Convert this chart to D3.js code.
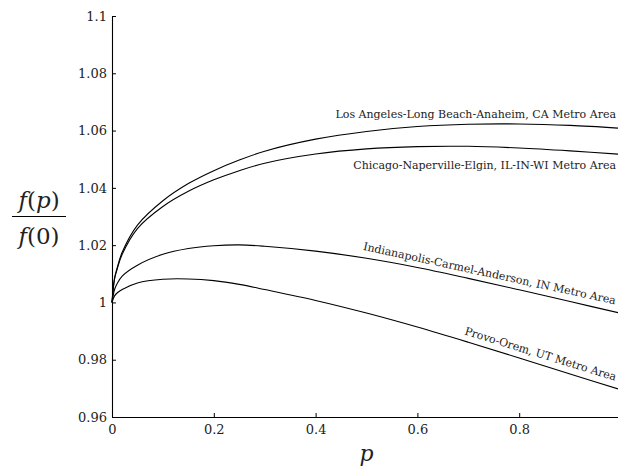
<!doctype html>
<html>
<head>
<meta charset="UTF-8">
<script src="https://d3js.org/d3.v7.min.js"></script>
<style>
  body { margin: 0; background: #fff; }
  text { font-family: "DejaVu Serif", serif; fill: #222; }
</style>
</head>
<body>
<script>
  var width = 618, height = 468

  // values
  var pValues       = [0, 0.005, 0.01, 0.02, 0.05, 0.1, 0.15, 0.2, 0.25, 0.3, 0.4, 0.5, 0.6, 0.7, 0.8, 0.9, 1.0]
  var laValues      = [1.0, 1.0085, 1.012, 1.0175, 1.027, 1.0355, 1.0415, 1.046, 1.0497, 1.0528, 1.057, 1.0597, 1.0614, 1.0622, 1.0623, 1.0618, 1.0608]
  var chicagoValues = [1.0, 1.0082, 1.0115, 1.0168, 1.0258, 1.0335, 1.0388, 1.0428, 1.046, 1.0486, 1.0518, 1.0536, 1.0544, 1.0545, 1.0539, 1.0529, 1.0517]
  var indyValues    = [1.0, 1.0045, 1.0065, 1.0092, 1.013, 1.0168, 1.0188, 1.0198, 1.0201, 1.0196, 1.0179, 1.0154, 1.0122, 1.0084, 1.0044, 1.0003, 0.9962]
  var provoValues   = [1.0, 1.0023, 1.0033, 1.0045, 1.0068, 1.0081, 1.0082, 1.0076, 1.0063, 1.0045, 1.0007, 0.9963, 0.9914, 0.9861, 0.9806, 0.975, 0.9695]

  var seriesNames = ["Los Angeles-Long Beach-Anaheim, CA Metro Area",
                     "Chicago-Naperville-Elgin, IL-IN-WI Metro Area",
                     "Indianapolis-Carmel-Anderson, IN Metro Area",
                     "Provo-Orem, UT Metro Area"]
  var seriesValues = [laValues, chicagoValues, indyValues, provoValues]

  var xTicks = [0, 0.2, 0.4, 0.6, 0.8, 1]
  var yTicks = [0.96, 0.98, 1, 1.02, 1.04, 1.06, 1.08, 1.1]

  var svg = d3.select('body').append('svg')
    .attr('width', width)
    .attr('height', height)

  var x = d3.scaleLinear().domain([0, 1]).range([112, 621])
  var y = d3.scaleLinear().domain([0.96, 1.1]).range([417, 16])
  var fmt = d => String(+d.toFixed(2))

  svg.append('g')
    .attr('transform', 'translate(0,' + y(0.96) + ')')
    .call(d3.axisBottom(x).tickValues(xTicks).tickFormat(fmt).tickSizeInner(-4).tickSizeOuter(0).tickPadding(8))
  svg.append('g')
    .attr('transform', 'translate(' + x(0) + ',0)')
    .call(d3.axisLeft(y).tickValues(yTicks).tickFormat(fmt).tickSizeInner(-4).tickSizeOuter(0).tickPadding(5))

  svg.selectAll('.domain').attr('stroke', '#000').attr('stroke-width', 1.1)
  svg.selectAll('.tick line').attr('stroke', '#000')
  svg.selectAll('.tick text')
    .style('font-family', '"DejaVu Serif", serif')
    .style('font-size', '13px')
    .attr('fill', '#222')

  var line = d3.line()
    .x((d, i) => x(pValues[i]))
    .y(d => y(d))
    .curve(d3.curveCatmullRom.alpha(0.5))

  svg.selectAll('.curve')
    .data(seriesValues)
    .enter()
    .append('path')
    .attr('class', 'curve')
    .attr('d', line)
    .attr('fill', 'none')
    .attr('stroke', '#000')
    .attr('stroke-width', 1.1)

  var n = pValues.length - 1
  var labelSize = '11px'

  // flat labels
  svg.append('text')
    .text(seriesNames[0])
    .style('font-size', labelSize)
    .attr('text-anchor', 'end')
    .attr('x', x(1) - 5)
    .attr('y', y(laValues[n]) - 10)

  svg.append('text')
    .text(seriesNames[1])
    .style('font-size', labelSize)
    .attr('text-anchor', 'end')
    .attr('x', x(1) - 5)
    .attr('y', y(chicagoValues[n]) + 15)

  // slanted labels follow the slope of the curve end
  var slope = function(vals, i0) {
    var dx = x(pValues[n]) - x(pValues[i0])
    var dy = y(vals[n]) - y(vals[i0])
    return Math.atan2(dy, dx) * 180 / Math.PI
  }

  svg.append('text')
    .text(seriesNames[2])
    .style('font-size', labelSize)
    .attr('text-anchor', 'end')
    .attr('transform', 'translate(' + (x(1) - 6) + ',' + (y(indyValues[n]) - 9) + ')rotate(' + slope(indyValues, 11) + ')')

  svg.append('text')
    .text(seriesNames[3])
    .style('font-size', labelSize)
    .attr('text-anchor', 'end')
    .attr('transform', 'translate(' + (x(1) - 6) + ',' + (y(provoValues[n]) - 9) + ')rotate(' + slope(provoValues, 12) + ')')

  // axis titles
  svg.append('text')
    .text('p')
    .style('font-size', '22px')
    .style('font-style', 'italic')
    .attr('text-anchor', 'middle')
    .attr('x', x(0.5))
    .attr('y', 461)

  var num = svg.append('text')
    .style('font-size', '23px')
    .attr('text-anchor', 'middle')
    .attr('x', 39)
    .attr('y', 208)
  num.append('tspan').style('font-style', 'italic').text('f')
  num.append('tspan').text('(')
  num.append('tspan').style('font-style', 'italic').text('p')
  num.append('tspan').text(')')

  svg.append('line')
    .attr('x1', 12).attr('x2', 66)
    .attr('y1', 216.5).attr('y2', 216.5)
    .attr('stroke', '#000')
    .attr('stroke-width', 1)

  var den = svg.append('text')
    .style('font-size', '23px')
    .attr('text-anchor', 'middle')
    .attr('x', 39)
    .attr('y', 244)
  den.append('tspan').style('font-style', 'italic').text('f')
  den.append('tspan').text('(0)')
</script>
</body>
</html>
